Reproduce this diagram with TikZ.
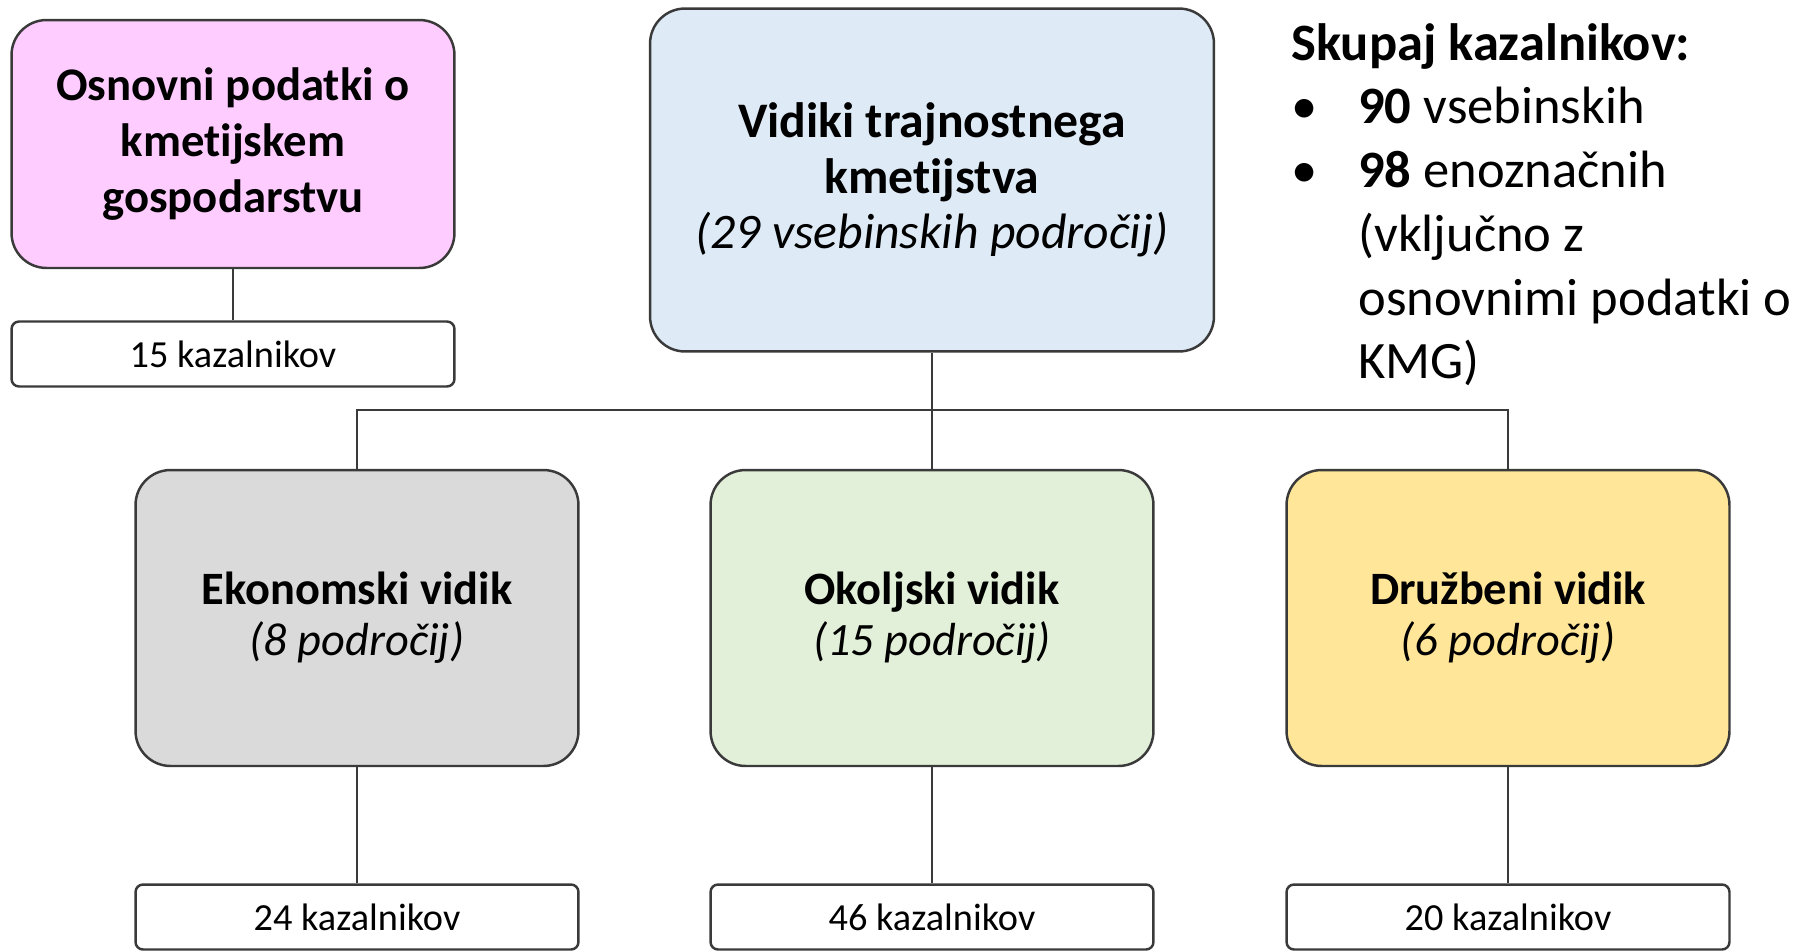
\documentclass[tikz,border=0pt]{standalone}
\usepackage{fontspec}
\setmainfont{Carlito}[Ligatures={NoCommon}]
\usetikzlibrary{calc}
\definecolor{rozi}{HTML}{FFCCFF}
\definecolor{modri}{HTML}{DEEBF7}
\definecolor{sivi}{HTML}{DADADA}
\definecolor{zeleni}{HTML}{E2F0D9}
\definecolor{rumeni}{HTML}{FFE699}
\definecolor{rob}{HTML}{3A3A3A}
\tikzset{>=stealth,
  vidik/.style={draw=rob,line width=1.4pt,rounded corners=0.7cm,align=center,
    inner sep=0pt,minimum width=8.86cm,minimum height=5.92cm,
    font=\fontsize{26.4}{28.9}\selectfont},
  stevec/.style={draw=rob,line width=1.4pt,rounded corners=0.15cm,fill=white,
    inner sep=0pt,minimum width=8.86cm,minimum height=1.3cm,
    font=\fontsize{21.8}{26}\selectfont},
  vez/.style={draw=rob,line width=1.3pt}
}

\begin{document}
\begin{tikzpicture}[x=0.02cm,y=-0.02cm]
\useasboundingbox (0,0) rectangle (1801,951);
\node[vidik,fill=rozi,minimum height=4.96cm,font=\fontsize{26.6}{31.7}\selectfont]
  (osnovni) at (233,144) {\textbf{Osnovni podatki o}\\\textbf{kmetijskem}\\\textbf{gospodarstvu}};
\node[stevec] (kosnovni) at (233,354) {15 kazalnikov};
\node[vidik,fill=modri,minimum width=11.28cm,minimum height=6.86cm,
  font=\fontsize{28.3}{31.7}\selectfont]
  (vidiki) at (932,180) {\textbf{Vidiki trajnostnega}\\\textbf{kmetijstva}\\\textit{(29 vsebinskih področij)}};
\node[vidik,fill=sivi] (ekonomski) at (357,618) {\textbf{Ekonomski vidik}\\\textit{(8 področij)}};
\node[vidik,fill=zeleni] (okoljski) at (932,618) {\textbf{Okoljski vidik}\\\textit{(15 področij)}};
\node[vidik,fill=rumeni] (druzbeni) at (1508,618) {\textbf{Družbeni vidik}\\\textit{(6 področij)}};
\node[stevec] (kekonomski) at (357,917) {24 kazalnikov};
\node[stevec] (kokoljski) at (932,917) {46 kazalnikov};
\node[stevec] (kdruzbeni) at (1508,917) {20 kazalnikov};
\coordinate (razvod) at (932,410);
\draw[vez] (osnovni) -- (kosnovni);
\draw[vez] (vidiki) -- (okoljski);
\draw[vez] (ekonomski) |- (razvod) -| (druzbeni);
\draw[vez] (ekonomski) -- (kekonomski);
\draw[vez] (okoljski) -- (kokoljski);
\draw[vez] (druzbeni) -- (kdruzbeni);
\node[anchor=north west,inner sep=0pt,font=\fontsize{29.9}{36.3}\selectfont]
  (skupaj) at (1291,15) {\begin{tabular}{@{}l@{}}
  \textbf{Skupaj kazalnikov:}\\
  \makebox[1.34cm][l]{•}\textbf{90} vsebinskih\\
  \makebox[1.34cm][l]{•}\textbf{98} enoznačnih\\
  \hspace{1.34cm}(vključno z\\
  \hspace{1.34cm}osnovnimi podatki o\\
  \hspace{1.34cm}KMG)
  \end{tabular}};
\end{tikzpicture}
\end{document}
